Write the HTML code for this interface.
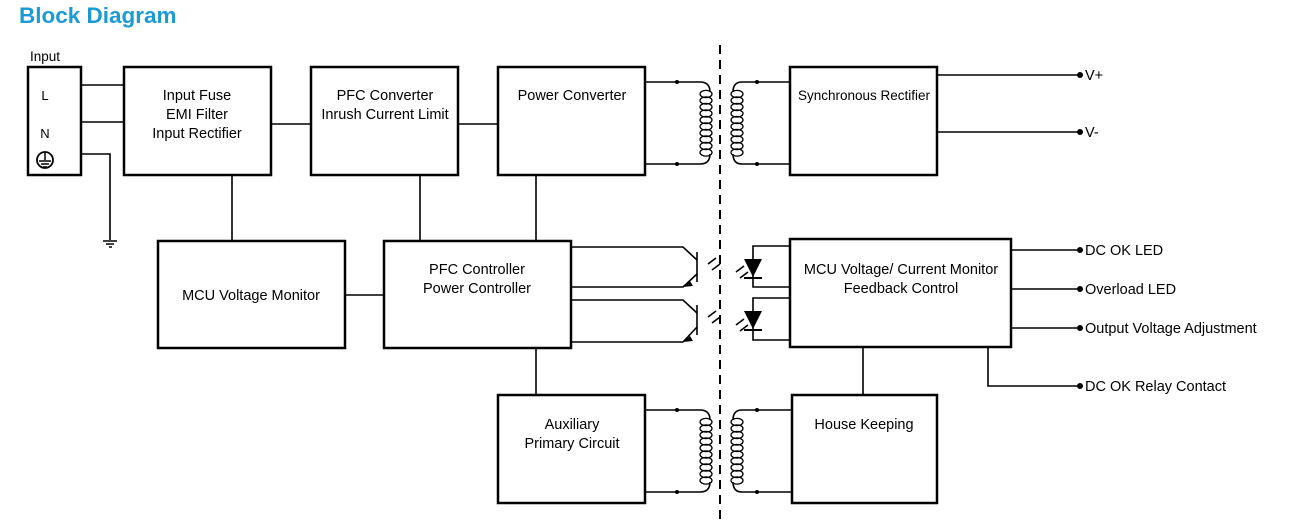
<!DOCTYPE html>
<html><head><style>
body{margin:0;background:#fff;width:1304px;height:528px;overflow:hidden;}
svg{display:block;font-family:"Liberation Sans",Arial,sans-serif;}
</style></head><body>
<svg width="1304" height="528" viewBox="0 0 1304 528" xmlns="http://www.w3.org/2000/svg">
<defs>
<g id="coilL">
 <ellipse cx="0" cy="0" rx="6" ry="3.6" fill="none" stroke="#000" stroke-width="1.3"/>
</g>
<g id="coil">
 <use href="#coilL" y="0"/><use href="#coilL" y="6.5"/><use href="#coilL" y="13"/><use href="#coilL" y="19.5"/><use href="#coilL" y="26"/><use href="#coilL" y="32.5"/><use href="#coilL" y="39"/><use href="#coilL" y="45.5"/><use href="#coilL" y="52"/><use href="#coilL" y="58.5"/>
</g>
</defs>
<text x="19" y="23" font-size="22.5" font-weight="bold" fill="#1c9ad6">Block Diagram</text>
<text x="30" y="61" font-size="13.5" fill="#000">Input</text>

<g fill="none" stroke="#000" stroke-width="2.5">
 <rect x="28" y="67" width="53" height="108"/>
 <rect x="124" y="67" width="147" height="108"/>
 <rect x="311" y="67" width="147" height="108"/>
 <rect x="498" y="67" width="147" height="108"/>
 <rect x="790" y="67" width="147" height="108"/>
 <rect x="158" y="241" width="187" height="107"/>
 <rect x="384" y="241" width="187" height="107"/>
 <rect x="790" y="239" width="221" height="108"/>
 <rect x="498" y="395" width="147" height="108"/>
 <rect x="792" y="395" width="145" height="108"/>
</g>

<g fill="none" stroke="#000" stroke-width="1.6">
 <path d="M81 85H124M81 122H124M81 154H110V240"/>
 <path d="M103 241H117M106 244H114M109 247H112"/>
 <path d="M271 124H311M458 124H498"/>
 <path d="M232 175V241M420 175V241M536 175V241M345 295H384"/>
 <path d="M536 348V395M863 347V395"/>
 <path d="M937 75H1080M937 132H1080"/>
 <path d="M1011 250H1080M1011 289H1080M1011 328H1080M988 347V386H1080"/>
 <path d="M645 82H700Q710 82 710 92M645 164H700Q710 164 710 154"/>
 <path d="M790 82H742Q733 82 733 92M790 164H742Q733 164 733 154"/>
 <path d="M645 410H700Q710 410 710 420M645 492H700Q710 492 710 482"/>
 <path d="M792 410H742Q733 410 733 420M792 492H742Q733 492 733 482"/>
 <path d="M571 247H683L697 260M571 287H683L697 274"/>
 <path d="M571 300H683L697 313M571 342H683L697 327"/>
 <path d="M697 252V282M697 305V335"/>
 <path d="M790 246H753V287H790M790 298H753V340H790"/>
 <path d="M708 264l8 -6M712 270l8 -6M708 317l8 -6M712 323l8 -6"/>
 <path d="M736 272l8 -6M740 278l8 -6M736 325l8 -6M740 331l8 -6"/>
</g>
<g fill="#000">
 <polygon points="683,287 690,281 693,286"/>
 <polygon points="683,342 690,336 693,341"/>
 <polygon points="744,259 762,259 753,277"/>
 <polygon points="744,311 762,311 753,329"/>
 <rect x="744" y="277" width="18" height="2"/>
 <rect x="744" y="329" width="18" height="2"/>
 <circle cx="677" cy="82" r="2"/><circle cx="677" cy="164" r="2"/>
 <circle cx="757" cy="82" r="2"/><circle cx="757" cy="164" r="2"/>
 <circle cx="677" cy="410" r="2"/><circle cx="677" cy="492" r="2"/>
 <circle cx="757" cy="410" r="2"/><circle cx="757" cy="492" r="2"/>
 <circle cx="1080" cy="75" r="3"/><circle cx="1080" cy="132" r="3"/>
 <circle cx="1080" cy="250" r="3"/><circle cx="1080" cy="289" r="3"/>
 <circle cx="1080" cy="328" r="3"/><circle cx="1080" cy="386" r="3"/>
</g>
<use href="#coil" x="706" y="94"/>
<use href="#coil" x="737" y="94"/>
<use href="#coil" x="706" y="422"/>
<use href="#coil" x="737" y="422"/>
<line x1="720" y1="45" x2="720" y2="525" stroke="#000" stroke-width="2" stroke-dasharray="9,6"/>
<circle cx="45" cy="160" r="8" fill="none" stroke="#000" stroke-width="1.8"/>
<path d="M45 153V160M39 161H51M41 164H49M43 167H47" stroke="#000" stroke-width="1.5" fill="none"/>

<g font-size="14.5" fill="#000" text-anchor="middle">
 <text x="45" y="100" font-size="13">L</text>
 <text x="45" y="138" font-size="13">N</text>
 <text x="197" y="100">Input Fuse</text>
 <text x="197" y="119">EMI Filter</text>
 <text x="197" y="138">Input Rectifier</text>
 <text x="385" y="100">PFC Converter</text>
 <text x="385" y="119">Inrush Current Limit</text>
 <text x="572" y="100">Power Converter</text>
 <text x="864" y="100" font-size="13.5">Synchronous Rectifier</text>
 <text x="251" y="300">MCU  Voltage Monitor</text>
 <text x="477" y="274">PFC Controller</text>
 <text x="477" y="293">Power Controller</text>
 <text x="901" y="274">MCU Voltage/ Current Monitor</text>
 <text x="901" y="293">Feedback Control</text>
 <text x="572" y="429">Auxiliary</text>
 <text x="572" y="448">Primary Circuit</text>
 <text x="864" y="429">House Keeping</text>
</g>
<g font-size="14.5" fill="#000">
 <text x="1085" y="80">V+</text>
 <text x="1085" y="137">V-</text>
 <text x="1085" y="255">DC OK LED</text>
 <text x="1085" y="294">Overload LED</text>
 <text x="1085" y="333">Output Voltage Adjustment</text>
 <text x="1085" y="391">DC OK Relay Contact</text>
</g>
</svg>
</body></html>
